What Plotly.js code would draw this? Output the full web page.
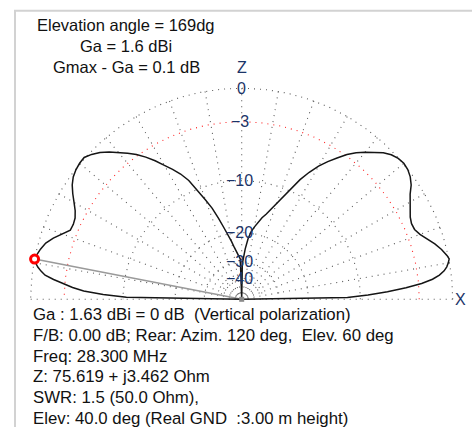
<!DOCTYPE html>
<html><head><meta charset="utf-8">
<script src="https://cdn.plot.ly/plotly-3.0.1.min.js"></script>
<style>html,body{margin:0;padding:0;background:#fff;overflow:hidden}#chart{width:472px;height:427px}</style>
</head><body><div id="chart"></div>
<script>
// ---- data (elevation pattern, dB relative to Ga) ----
const elevDeg = [0,1,2,3,4,5,6,7,8,9,10,11,12,14,16,18,20,22,24,26,28,30,32,34,36,38,40,42,44,46,48,50,52,54,56,58,60,62,64,66,68,70,72,74,76,78,80,82,84,86,88,89,90,
  91,92,94,96,98,100,102,104,106,108,110,112,114,116,118,120,122,124,126,128,130,132,134,136,138,140,142,144,146,148,150,152,154,156,158,160,162,164,166,168,169,170,171,172,173,174,175,176,177,178,179,180];
const gainDb = [-99,-12.0,-8.9,-6.4,-4.3,-2.7,-1.65,-1.0,-0.55,-0.28,-0.1,0.03,-0.08,-0.42,-0.85,-1.35,-1.85,-2.15,-2.2,-2.05,-1.72,-1.42,-1.05,-0.55,-0.22,-0.02,0.05,-0.03,-0.25,-0.6,-1.1,-1.65,-2.2,-2.85,-3.7,-4.55,-5.5,-6.65,-8.0,-9.7,-11.3,-12.8,-14.1,-15.1,-16.0,-17.1,-18.3,-19.6,-21.6,-24.8,-28.5,-31.0,-99,
  -31.0,-28.7,-27.4,-26.2,-24.3,-22.2,-20.1,-18.2,-15.9,-13.7,-12.0,-10.4,-8.4,-7.2,-6.25,-5.4,-4.45,-3.6,-2.85,-2.25,-1.7,-1.1,-0.58,-0.2,0.08,0.05,-0.05,-0.23,-0.55,-1.0,-1.5,-1.95,-2.25,-2.35,-2.3,-1.7,-1.1,-0.6,-0.3,-0.08,0,-0.15,-0.38,-0.7,-1.1,-1.9,-2.9,-3.8,-5.0,-7.3,-10.5,-99];
const peakElev = 169;
const ringDb = [0, -3, -10, -20, -30, -40];
const ringLabels = ["0", "\u22123", "\u221210", "\u221220", "\u221230", "\u221240"];
const axisNames = ["Z", "X"];
const infoTop = ["Elevation angle = 169dg", "Ga = 1.6 dBi", "Gmax - Ga = 0.1 dB"];
const infoBottom = [
  "Ga : 1.63 dBi = 0 dB \u00a0(Vertical polarization)",
  "F/B: 0.00 dB; Rear: Azim. 120 deg, \u00a0Elev. 60 deg",
  "Freq: 28.300 MHz",
  "Z: 75.619 + j3.462 Ohm",
  "SWR: 1.5 (50.0 Ohm),",
  "Elev: 40.0 deg (Real GND \u00a0:3.00 m height)"
];

// ---- geometry helpers ----
const W = 472, H = 427;
const toR = db => Math.pow(10, db / 40);
const rad = d => d * Math.PI / 180;
const X = (a, db) => toR(db) * Math.cos(rad(a));
const Y = (a, db) => toR(db) * Math.sin(rad(a));
const pxX = p => p / W, pxY = p => 1 - p / H;

const traces = [];
const gridDash = "1px,5px";
// spokes every 10 deg
for (let a = 0; a <= 180; a += 10) {
  traces.push({x: [0, Math.cos(rad(a))], y: [0, Math.sin(rad(a))], mode: "lines",
    line: {color: "#5a5a5a", width: 1.1, dash: gridDash}, hoverinfo: "skip"});
}
// rings
ringDb.forEach(db => {
  const xs = [], ys = [];
  for (let a = 0; a <= 180; a += 1) { xs.push(X(a, db)); ys.push(Y(a, db)); }
  traces.push({x: xs, y: ys, mode: "lines",
    line: {color: db === -3 ? "#ff2020" : "#5a5a5a", width: 1.1, dash: gridDash}, hoverinfo: "skip"});
});
// pointer line to peak
const pk = gainDb[elevDeg.indexOf(peakElev)];
traces.push({x: [0, X(peakElev, pk)], y: [0, Y(peakElev, pk)], mode: "lines",
  line: {color: "#9a9a9a", width: 1.6}, hoverinfo: "skip"});
// pattern
traces.push({x: elevDeg.map((a, i) => X(a, gainDb[i])), y: elevDeg.map((a, i) => Y(a, gainDb[i])),
  mode: "lines", line: {color: "#151515", width: 1.5}, hoverinfo: "skip"});
// center square
traces.push({x: [0], y: [0], mode: "markers", marker: {symbol: "square", size: 5, color: "#8a8a8a"}, hoverinfo: "skip"});
// peak marker
traces.push({x: [X(peakElev, pk)], y: [Y(peakElev, pk)], mode: "markers",
  marker: {symbol: "circle", size: 8, color: "#fff", line: {color: "#ff0000", width: 3}}, hoverinfo: "skip"});

const ann = [];
const labFont = {family: "Liberation Sans, Arial, sans-serif", size: 16, color: "#1b3468"};
ringDb.forEach((db, i) => {
  ann.push({x: db === 0 ? 0 : -0.01, y: toR(db), xref: "x", yref: "y", text: ringLabels[i], showarrow: false,
    xanchor: "center", yanchor: "middle", font: labFont});
});
ann.push({x: 0, y: 1.0, xref: "x", yref: "y", yshift: 10, text: axisNames[0], showarrow: false, xanchor: "center", yanchor: "bottom", font: labFont});
ann.push({x: 1.035, y: 0, xref: "x", yref: "y", text: axisNames[1], showarrow: false, xanchor: "center", yanchor: "middle", font: labFont});

const topY = [25, 45.7, 66.5];
infoTop.forEach((t, i) => ann.push({x: pxX(126), y: pxY(topY[i]), xref: "paper", yref: "paper", text: t, showarrow: false,
  xanchor: "center", yanchor: "middle", font: {family: "Liberation Sans, Arial, sans-serif", size: 16.5, color: "#111"}}));
const botY = [314, 335, 356, 376.7, 397.3, 418.3];
infoBottom.forEach((t, i) => ann.push({x: pxX(31), y: pxY(botY[i]), xref: "paper", yref: "paper", text: t, showarrow: false,
  xanchor: "left", yanchor: "middle", font: {family: "Liberation Sans, Arial, sans-serif", size: 16.8, color: "#111"}}));

// scale: center at (241.7, 299.3) px, R = 211 px
const cx = 241.7, cy = 299.3, R = 211;
const layout = {
  width: W, height: H, margin: {l: 0, r: 0, t: 0, b: 0},
  paper_bgcolor: "#fff", plot_bgcolor: "#fff", showlegend: false,
  xaxis: {range: [-cx / R, (W - cx) / R], visible: false, fixedrange: true},
  yaxis: {range: [-(H - cy) / R, cy / R], visible: false, fixedrange: true},
  annotations: ann,
  shapes: [
    {type: "line", xref: "paper", yref: "paper", x0: pxX(14), x1: 1, y0: pxY(10.8), y1: pxY(10.8), line: {color: "#d2d2d2", width: 2}},
    {type: "line", xref: "paper", yref: "paper", x0: pxX(15), x1: pxX(15), y0: pxY(10), y1: 0, line: {color: "#d2d2d2", width: 2}}
  ]
};
Plotly.newPlot("chart", traces, layout, {staticPlot: true, displayModeBar: false});
</script></body></html>
